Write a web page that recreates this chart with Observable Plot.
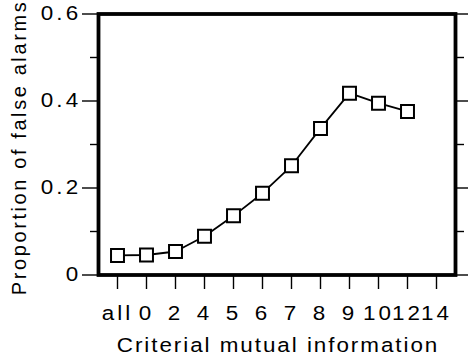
<!DOCTYPE html>
<html>
<head>
<meta charset="utf-8">
<script src="https://cdn.jsdelivr.net/npm/d3@7"></script>
<script src="https://cdn.jsdelivr.net/npm/@observablehq/plot@0.6"></script>
<style>
  html, body { margin: 0; padding: 0; background: #fff; }
</style>
</head>
<body>
<div id="chart"></div>
<script>
// Criterial mutual information levels (x categories)
const categories = ["all", "0", "2", "4", "5", "6", "7", "8", "9", "10", "12", "14"];
// Proportion of false alarms at each level (no value at 14)
const levels = ["all", "0", "2", "4", "5", "6", "7", "8", "9", "10", "12"];
const falseAlarms = [0.045, 0.046, 0.054, 0.089, 0.136, 0.188, 0.251, 0.337, 0.418, 0.395, 0.376];
// y-axis ticks
const majorTicks = [0, 0.2, 0.4, 0.6];
const majorTickLabels = ["0", "0.2", "0.4", "0.6"];
const minorTicks = [0.1, 0.3, 0.5];

const xTitle = "Criterial mutual information";
const yTitle = "Proportion of false alarms";

const data = levels.map((c, i) => ({level: c, value: falseAlarms[i]}));

const plot = Plot.plot({
  width: 468,
  height: 360,
  marginLeft: 98,
  marginRight: 13,
  marginTop: 13.5,
  marginBottom: 85.5,
  style: {fontFamily: "'Liberation Sans', Arial, sans-serif", fontSize: "19.5px", color: "#000", background: "#fff"},
  x: {type: "point", domain: categories, padding: 0.5},
  y: {domain: [0, 0.6]},
  marks: [
    // left axis: labelled major ticks and short minor ticks
    Plot.axisY({anchor: "left", ticks: majorTicks, tickSize: 16, tickPadding: 1.3, strokeWidth: 1.4,
      tickFormat: (d) => majorTickLabels[majorTicks.indexOf(d)], label: null}),
    Plot.axisY({anchor: "left", ticks: minorTicks, tickSize: 8, strokeWidth: 1.4, tickFormat: () => "", label: null}),
    // right axis: ticks only
    Plot.axisY({anchor: "right", ticks: majorTicks, tickSize: 13, strokeWidth: 1.4, tickFormat: () => "", label: null}),
    Plot.axisY({anchor: "right", ticks: minorTicks, tickSize: 8, strokeWidth: 1.4, tickFormat: () => "", label: null}),
    // bottom axis
    Plot.axisX({anchor: "bottom", tickSize: 14.5, tickPadding: 17, strokeWidth: 1.4, label: null}),
    Plot.frame({stroke: "#000", strokeWidth: 3.8}),
    Plot.line(data, {x: "level", y: "value", stroke: "#000", strokeWidth: 1.8}),
    Plot.dot(data, {x: "level", y: "value", symbol: "square", r: 7.3, fill: "#fff", stroke: "#000", strokeWidth: 2}),
    // axis titles
    Plot.text([xTitle], {frameAnchor: "bottom", textAnchor: "middle", lineAnchor: "bottom", dy: 76.5, dx: 1, fontSize: 19.5, fill: "#000"}),
    Plot.text([yTitle], {frameAnchor: "left", textAnchor: "middle", lineAnchor: "bottom", rotate: -90, dx: -72.5, dy: 3, fontSize: 20, fill: "#000"})
  ]
});

// Horizontal text is set wide: stretch each label about its own anchor point.
const stretch = 1.15;
d3.select(plot).selectAll("text").each(function () {
  const t = this.textContent;
  if (t === yTitle) { this.style.letterSpacing = "2.6px"; return; }
  this.style.letterSpacing = t === xTitle ? "1.7px" : "2.7px";
  const tr = this.getAttribute("transform");
  if (tr) {
    this.setAttribute("transform", tr + ` scale(${stretch},1)`);
  } else {
    const x = +(this.getAttribute("x") || 0);
    const y = +(this.getAttribute("y") || 0);
    this.setAttribute("x", 0);
    this.setAttribute("y", 0);
    this.setAttribute("transform", `translate(${x},${y}) scale(${stretch},1)`);
  }
});

document.getElementById("chart").appendChild(plot);
</script>
</body>
</html>
